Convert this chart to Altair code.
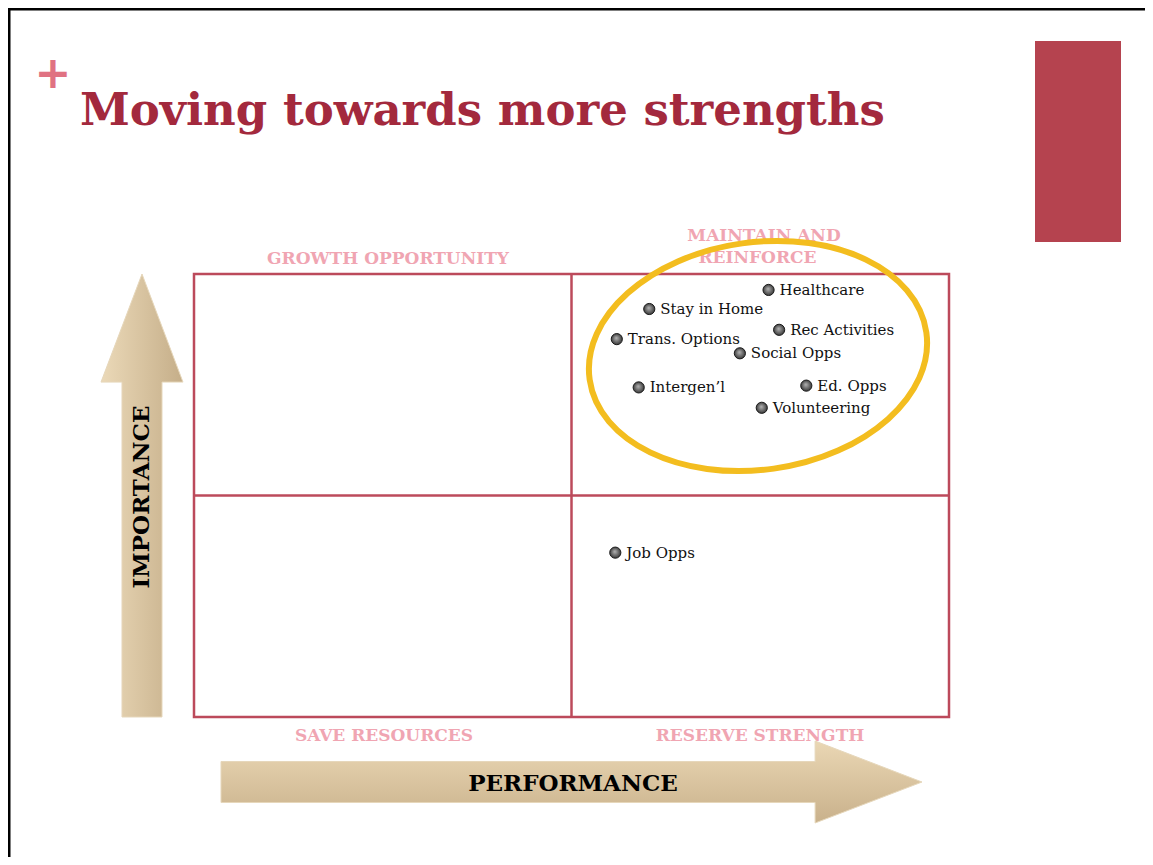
import altair as alt
import pandas as pd

# ---------------- data ----------------
labels = ["Healthcare", "Stay in Home", "Rec Activities", "Trans. Options", "Social Opps",
          "Intergen\u2019l", "Ed. Opps", "Volunteering", "Job Opps"]
performance = [7.61, 6.03, 7.75, 5.60, 7.23, 5.89, 8.11, 7.52, 5.58]
importance = [9.64, 9.21, 8.74, 8.53, 8.21, 7.44, 7.48, 6.98, 3.71]

# quadrant grid (scale 0..10, split at the middle)
grid_lo, grid_mid, grid_hi = 0, 5, 10

quadrant_names = ["GROWTH OPPORTUNITY", "MAINTAIN AND", "REINFORCE", "SAVE RESOURCES", "RESERVE STRENGTH"]
title_text = "Moving towards more strengths"
x_axis_name = "PERFORMANCE"
y_axis_name = "IMPORTANCE"

df = pd.DataFrame({"label": labels, "performance": performance, "importance": importance})
grid_df = pd.DataFrame({"lo": [grid_lo], "mid": [grid_mid], "hi": [grid_hi]})
one = pd.DataFrame({"k": [0]})

# ---------------- styles ----------------
W, H = 755, 443
RED_LINE = "#BC4A5B"
PINK = "#F0A5B2"
TITLE_RED = "#A3293D"
BLOCK_RED = "#B5434F"
GOLD = "#F3BD1F"
SERIF = "DejaVu Serif"

xs = alt.Scale(domain=[0, 10], nice=False, zero=False)
ys = alt.Scale(domain=[0, 10], nice=False, zero=False)

# ---------------- quadrant frame ----------------
frame = alt.Chart(grid_df).mark_rect(fill="transparent", stroke=RED_LINE, strokeWidth=2.5).encode(
    x=alt.X("lo:Q", scale=xs, axis=None), x2="hi:Q",
    y=alt.Y("lo:Q", scale=ys, axis=None), y2="hi:Q",
)
vline = alt.Chart(grid_df).mark_rule(color=RED_LINE, strokeWidth=2.5).encode(
    x=alt.X("mid:Q", scale=xs, axis=None),
    y=alt.Y("lo:Q", scale=ys, axis=None), y2="hi:Q")
hline = alt.Chart(grid_df).mark_rule(color=RED_LINE, strokeWidth=2.5).encode(
    y=alt.Y("mid:Q", scale=ys, axis=None),
    x=alt.X("lo:Q", scale=xs, axis=None), x2="hi:Q")

# ---------------- slide decorations ----------------
border_top = alt.Chart(one).mark_rule(color="black", strokeWidth=3).encode(
    x=alt.value(-190), x2=alt.value(1000), y=alt.value(-265))
border_left = alt.Chart(one).mark_rule(color="black", strokeWidth=3).encode(
    x=alt.value(-185), y=alt.value(-266), y2=alt.value(700))

block = alt.Chart(one).mark_rect(color=BLOCK_RED).encode(
    x=alt.value(841), x2=alt.value(927), y=alt.value(-233), y2=alt.value(-32))

plus = alt.Chart(one).mark_text(font="DejaVu Sans", fontWeight="bold", fontSize=44,
                                color="#E07282", align="center", baseline="middle").encode(
    x=alt.value(-141), y=alt.value(-199), text=alt.value("+"))

title = alt.Chart(one).mark_text(font=SERIF, fontWeight="bold", fontSize=45,
                                 color=TITLE_RED, align="left", baseline="alphabetic").encode(
    x=alt.value(-114), y=alt.value(-149), text=alt.value(title_text))

# arrows (custom symbol paths, unit box -1..1)
v_arrow_path = "M 0 -1 L 0.185 -0.512 L 0.0903 -0.512 L 0.0903 1 L -0.0903 1 L -0.0903 -0.512 L -0.185 -0.512 Z"
h_arrow_path = "M 1 0 L 0.695 -0.117 L 0.695 -0.0585 L -1 -0.0585 L -1 0.0585 L 0.695 0.0585 L 0.695 0.117 Z"

v_grad = alt.LinearGradient(gradient="linear", x1=0, y1=0, x2=1, y2=0,
                            stops=[alt.GradientStop(offset=0, color="#EBD9B8"),
                                   alt.GradientStop(offset=1, color="#C5AE89")])
h_grad = alt.LinearGradient(gradient="linear", x1=0, y1=0, x2=0, y2=1,
                            stops=[alt.GradientStop(offset=0, color="#EAD7B4"),
                                   alt.GradientStop(offset=1, color="#C9B18B")])

v_arrow = alt.Chart(one).mark_point(shape=v_arrow_path, filled=True, fill=v_grad, opacity=1,
                                    stroke="#E6D7BB", strokeWidth=1, size=443 ** 2).encode(
    x=alt.value(-52), y=alt.value(221.5))
h_arrow = alt.Chart(one).mark_point(shape=h_arrow_path, filled=True, fill=h_grad, opacity=1,
                                    stroke="#E6D7BB", strokeWidth=1, size=701 ** 2).encode(
    x=alt.value(377.5), y=alt.value(508))

y_name = alt.Chart(one).mark_text(font=SERIF, fontWeight="bold", fontSize=23, color="black",
                                  angle=270, align="center", baseline="middle").encode(
    x=alt.value(-52), y=alt.value(223), text=alt.value(y_axis_name))
x_name = alt.Chart(one).mark_text(font=SERIF, fontWeight="bold", fontSize=23, color="black",
                                  align="center", baseline="middle").encode(
    x=alt.value(379), y=alt.value(510), text=alt.value(x_axis_name))

# quadrant names
q_pos = [(194, -15), (570, -38), (563.5, -16), (190, 462), (566, 462)]
q_layers = [
    alt.Chart(one).mark_text(font=SERIF, fontWeight="bold", fontSize=17, color=PINK,
                             align="center", baseline="middle").encode(
        x=alt.value(px), y=alt.value(py), text=alt.value(name))
    for name, (px, py) in zip(quadrant_names, q_pos)
]

# ---------------- data points ----------------
ball = alt.RadialGradient(gradient="radial", x1=0.45, y1=0.4, r1=0.0, x2=0.5, y2=0.5, r2=0.55,
                          stops=[alt.GradientStop(offset=0, color="#B5B5B5"),
                                 alt.GradientStop(offset=1, color="#2F2F2F")])
points = alt.Chart(df).mark_point(shape="circle", filled=True, fill=ball, opacity=1,
                                  stroke="#1A1A1A", strokeWidth=1, size=125).encode(
    x=alt.X("performance:Q", scale=xs, axis=None),
    y=alt.Y("importance:Q", scale=ys, axis=None),
)
point_labels = alt.Chart(df).mark_text(font=SERIF, fontSize=15, color="#111111",
                                       align="left", baseline="middle", dx=11, dy=0).encode(
    x=alt.X("performance:Q", scale=xs, axis=None),
    y=alt.Y("importance:Q", scale=ys, axis=None),
    text="label:N",
)

# ellipse highlight (cubic bezier ellipse, rx=1, ry=k)
k = 0.669
c = 0.5523
e_path = (f"M -1 0 C -1 {-c*k:.4f} {-c:.4f} {-k:.4f} 0 {-k:.4f} "
          f"C {c:.4f} {-k:.4f} 1 {-c*k:.4f} 1 0 "
          f"C 1 {c*k:.4f} {c:.4f} {k:.4f} 0 {k:.4f} "
          f"C {-c:.4f} {k:.4f} -1 {c*k:.4f} -1 0 Z")
ellipse = alt.Chart(one).mark_point(shape=e_path, filled=False, opacity=1, stroke=GOLD,
                                    strokeWidth=6, size=340 ** 2, angle=352).encode(
    x=alt.value(564), y=alt.value(82))

chart = alt.layer(
    border_top, border_left, block, plus, title,
    v_arrow, h_arrow, y_name, x_name,
    frame, vline, hline,
    *q_layers,
    points, point_labels,
    ellipse,
).properties(
    width=W, height=H,
    padding={"left": 186, "top": 266, "right": 196, "bottom": 140},
    autosize=alt.AutoSizeParams(type="none"),
    background="white",
).configure_view(strokeWidth=0)

chart.save("out.html", embed_options={"renderer": "svg", "actions": False})
